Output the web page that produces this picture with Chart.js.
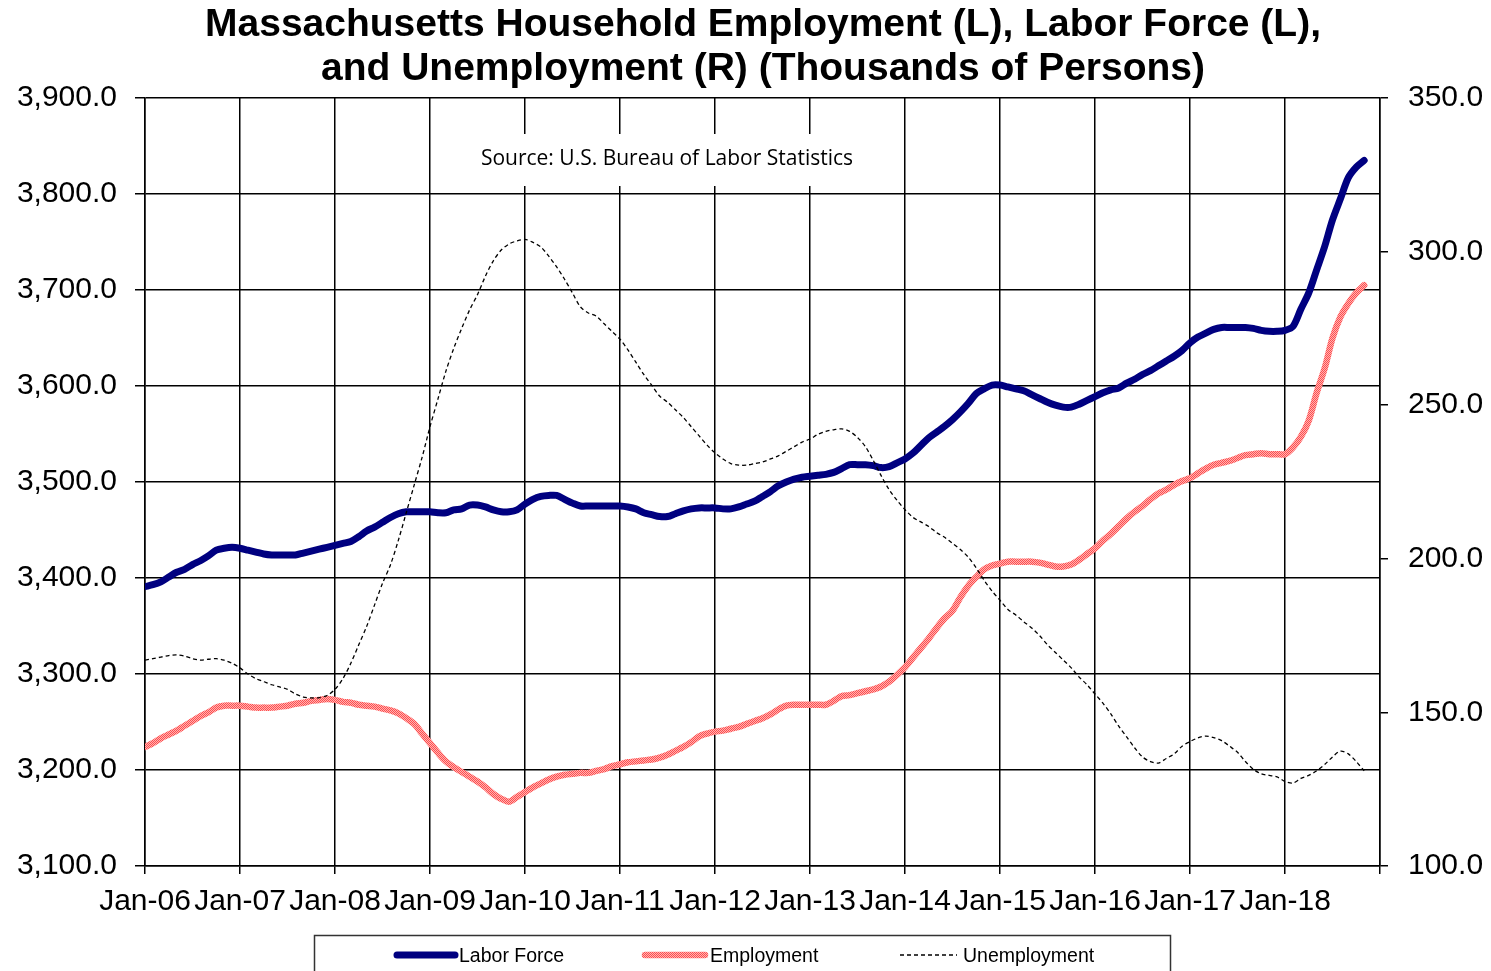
<!DOCTYPE html>
<html>
<head>
<meta charset="utf-8">
<script src="https://cdn.jsdelivr.net/npm/chart.js@4.4.1/dist/chart.umd.min.js"></script>
<style>
  body { margin: 0; background: #fff; }
  #wrap { width: 1491px; height: 971px; position: relative; }
</style>
</head>
<body>
<div id="wrap"><canvas id="laborChart"></canvas></div>
<script>
// Monthly, Jan-06 .. Nov-18 (thousands of persons)
const yearLabels = ['Jan-06', 'Jan-07', 'Jan-08', 'Jan-09', 'Jan-10', 'Jan-11', 'Jan-12',
    'Jan-13', 'Jan-14', 'Jan-15', 'Jan-16', 'Jan-17', 'Jan-18'];

const laborForce = [
    3391, 3393, 3396, 3401, 3406, 3409, 3414, 3418, 3423, 3429, 3431, 3432,
    3431, 3429, 3427, 3425, 3424, 3424, 3424, 3424, 3426, 3428, 3430, 3432,
    3434, 3436, 3438, 3443, 3449, 3453, 3458, 3463, 3467, 3469, 3469, 3469,
    3469, 3468, 3468, 3471, 3472, 3476, 3476, 3474, 3471, 3469, 3469, 3471,
    3477, 3482, 3485, 3486, 3486, 3482, 3478, 3475, 3475, 3475, 3475, 3475,
    3475, 3474, 3472, 3468, 3466, 3464, 3464, 3467, 3470, 3472, 3473, 3473,
    3473, 3472, 3472, 3474, 3477, 3480, 3485, 3490, 3496, 3500, 3503, 3505,
    3506, 3507, 3508, 3510, 3514, 3518, 3518, 3518, 3517, 3515, 3516, 3520,
    3524, 3530, 3538, 3546, 3552, 3558, 3565, 3573, 3582, 3592, 3597, 3601,
    3601, 3599, 3597, 3595, 3591, 3587, 3583, 3580, 3578, 3578, 3581, 3585,
    3589, 3593, 3596, 3598, 3603, 3607, 3612, 3616, 3621, 3626, 3631, 3637,
    3645, 3651, 3655, 3659, 3661, 3661, 3661, 3661, 3660, 3658, 3657, 3657,
    3658, 3662, 3680, 3697, 3721, 3745, 3773, 3795, 3817, 3828, 3835
];

const employment = [
    3224, 3228, 3233, 3237, 3241, 3246, 3251, 3256, 3260, 3265, 3267, 3267,
    3267, 3266, 3265, 3265, 3265, 3266, 3267, 3269, 3270, 3272, 3273, 3274,
    3273, 3271, 3270, 3268, 3267, 3266, 3264, 3262, 3259, 3254, 3248, 3238,
    3228, 3218, 3209, 3203, 3198, 3193, 3188, 3182, 3175, 3170, 3167, 3172,
    3177, 3182, 3186, 3190, 3193, 3195, 3196, 3197, 3197, 3199, 3201, 3204,
    3206, 3208, 3209, 3210, 3211, 3213, 3216, 3220, 3224, 3229, 3235, 3238,
    3240, 3241, 3243, 3245, 3248, 3251, 3254, 3258, 3263, 3267, 3268, 3268,
    3268, 3268, 3268, 3272, 3277, 3278, 3280, 3282, 3284, 3287, 3292, 3299,
    3307, 3317, 3327, 3337, 3348, 3358, 3366, 3380, 3392, 3401, 3409, 3413,
    3415, 3417, 3417, 3417, 3417, 3416, 3414, 3412, 3412, 3414, 3419, 3425,
    3431, 3439, 3446, 3454, 3462, 3469, 3475, 3482, 3488, 3492, 3497, 3501,
    3504, 3509, 3514, 3518, 3520, 3522, 3525, 3528, 3529, 3530, 3529, 3529,
    3529, 3536, 3547, 3564, 3593, 3618, 3650, 3672, 3686, 3697, 3705
];

const unemployment = [
    167, 167.5, 168, 168.5, 168.7, 168.3, 167.5, 167, 167.3, 167.5, 167, 166,
    164.5, 162.5, 161, 160, 159, 158.3, 157.5, 156, 155, 154.7, 154.8, 155.5,
    157.5, 161, 166, 172, 178, 185, 192, 198, 206, 215, 224, 233,
    243, 252, 261, 268.5, 275, 281, 286, 292, 297, 300.5, 302.5, 303.5,
    304, 303, 301.5, 298.5, 295, 291, 286.5, 282, 280, 279, 276.5, 274,
    271.5, 268, 264, 260, 256.5, 253, 251, 248.5, 246, 243, 240, 237,
    234.5, 232.5, 231, 230.5, 230.5, 231, 231.5, 232.5, 233.5, 235, 236.5, 238,
    239, 240.5, 241.5, 242, 242.3, 241.5, 239.5, 236.5, 232, 227, 222.5, 219,
    216, 213.5, 212, 210.5, 208.5, 207, 205, 203, 200.5, 197, 193, 189.5,
    186.5, 183.5, 181.7, 179.5, 177.5, 175, 172, 169.5, 167, 164.5, 161.5, 159,
    156, 153, 149.5, 145.5, 142, 138.5, 135.5, 134, 133.5, 135, 136.5, 139,
    140.5, 141.7, 142.3, 141.8, 140.8, 139, 137, 134, 131.5, 130, 129.5, 129,
    127.5, 127, 128.5, 129.5, 131, 133, 135.5, 137.4, 136.5, 134, 131
];

const titleLines = ['Massachusetts Household Employment (L), Labor Force (L),',
    'and Unemployment (R) (Thousands of Persons)'];
const sourceNote = 'Source: U.S. Bureau of Labor Statistics';

// checkered pink pattern like the Excel series
function pinkPattern() {
    const c = document.createElement('canvas');
    c.width = 2; c.height = 2;
    const g = c.getContext('2d');
    g.fillStyle = '#ffb3b3';
    g.fillRect(0, 0, 2, 2);
    g.fillStyle = '#ff4d4d';
    g.fillRect(0, 0, 1, 1);
    g.fillRect(1, 1, 1, 1);
    return document.getElementById('laborChart').getContext('2d').createPattern(c, 'repeat');
}
const empStroke = pinkPattern();

const toPoints = arr => arr.map((v, i) => ({ x: i, y: v }));

const decorations = {
    id: 'decorations',
    beforeDatasetsDraw(chart) {
        const ctx = chart.ctx;
        ctx.save();
        ctx.fillStyle = '#fff';
        ctx.fillRect(470, 134, 395, 52);
        ctx.fillStyle = '#000';
        ctx.font = '21px "Open Sans", "Noto Sans", sans-serif';
        ctx.textAlign = 'center';
        ctx.textBaseline = 'middle';
        ctx.fillText(sourceNote, 667, 159);
        ctx.restore();
    },
    afterDraw(chart) {
        const ctx = chart.ctx;
        ctx.save();
        // title
        ctx.fillStyle = '#000';
        ctx.font = 'bold 39px "Liberation Sans Narrow", "Liberation Sans", Arial, sans-serif';
        ctx.textAlign = 'center';
        ctx.textBaseline = 'middle';
        ctx.fillText(titleLines[0], 763, 25);
        ctx.fillText(titleLines[1], 763, 69);

        // legend box
        ctx.strokeStyle = '#333';
        ctx.lineWidth = 1.5;
        ctx.strokeRect(314.5, 935.5, 856, 50);

        const items = [
            { x0: 397, x1: 455, tx: 459, ds: chart.data.datasets[1] },
            { x0: 645, x1: 705, tx: 710, ds: chart.data.datasets[2] },
            { x0: 900, x1: 957, tx: 963, ds: chart.data.datasets[0] }
        ];
        ctx.font = '19.5px "Liberation Sans", Arial, sans-serif';
        ctx.textAlign = 'left';
        items.forEach(it => {
            ctx.beginPath();
            ctx.strokeStyle = it.ds.borderColor;
            ctx.lineWidth = it.ds.borderWidth;
            ctx.lineCap = it.ds.borderDash ? 'butt' : 'round';
            ctx.setLineDash(it.ds.borderDash || []);
            ctx.moveTo(it.x0, 955);
            ctx.lineTo(it.x1, 955);
            ctx.stroke();
            ctx.setLineDash([]);
            ctx.fillStyle = '#000';
            ctx.fillText(it.ds.label, it.tx, 957);
        });
        ctx.restore();
    }
};

const ctx = document.getElementById('laborChart').getContext('2d');
new Chart(ctx, {
    type: 'line',
    data: {
        datasets: [
            {
                label: 'Unemployment',
                data: toPoints(unemployment),
                yAxisID: 'y1',
                borderColor: '#000',
                borderWidth: 1.3,
                borderDash: [4, 3],
                pointRadius: 0,
                tension: 0.3,
                order: 0
            },
            {
                label: 'Labor Force',
                data: toPoints(laborForce),
                yAxisID: 'y',
                borderColor: '#000080',
                borderWidth: 7,
                borderCapStyle: 'round',
                borderJoinStyle: 'round',
                pointRadius: 0,
                tension: 0.3,
                order: 1
            },
            {
                label: 'Employment',
                data: toPoints(employment),
                yAxisID: 'y',
                borderColor: empStroke,
                borderWidth: 6.5,
                borderCapStyle: 'round',
                borderJoinStyle: 'round',
                pointRadius: 0,
                tension: 0.3,
                order: 2
            }
        ]
    },
    options: {
        responsive: true,
        maintainAspectRatio: false,
        animation: false,
        layout: { padding: { top: 98, left: 0, right: 0, bottom: 0 } },
        plugins: {
            legend: { display: false },
            title: { display: false },
            tooltip: { enabled: false }
        },
        scales: {
            x: {
                type: 'linear',
                min: 0,
                max: 156,
                afterFit: s => { s.height = 105; },
                grid: { color: '#000', lineWidth: 1.5, tickLength: 8 },
                border: { color: '#000', width: 1.5 },
                ticks: {
                    stepSize: 12,
                    autoSkip: false,
                    maxRotation: 0,
                    padding: 10,
                    color: '#000',
                    font: { family: '"Liberation Sans", Arial, sans-serif', size: 30 },
                    callback: v => yearLabels[v / 12] || ''
                }
            },
            y: {
                position: 'left',
                min: 3100,
                max: 3900,
                afterFit: s => { s.width = 145; },
                grid: { color: '#000', lineWidth: 1.5, tickLength: 10 },
                border: { color: '#000', width: 1.5 },
                ticks: {
                    stepSize: 100,
                    padding: 18,
                    color: '#000',
                    font: { family: '"Liberation Sans", Arial, sans-serif', size: 30 },
                    callback: v => v.toLocaleString('en-US', { minimumFractionDigits: 1, maximumFractionDigits: 1 })
                }
            },
            y1: {
                position: 'right',
                min: 100,
                max: 350,
                afterFit: s => { s.width = 111; },
                grid: { drawOnChartArea: false, color: '#000', lineWidth: 1.5, tickLength: 8 },
                border: { color: '#000', width: 1.5 },
                ticks: {
                    stepSize: 50,
                    padding: 20,
                    color: '#000',
                    font: { family: '"Liberation Sans", Arial, sans-serif', size: 30 },
                    callback: v => v.toFixed(1)
                }
            }
        }
    },
    plugins: [decorations]
});
</script>
</body>
</html>
